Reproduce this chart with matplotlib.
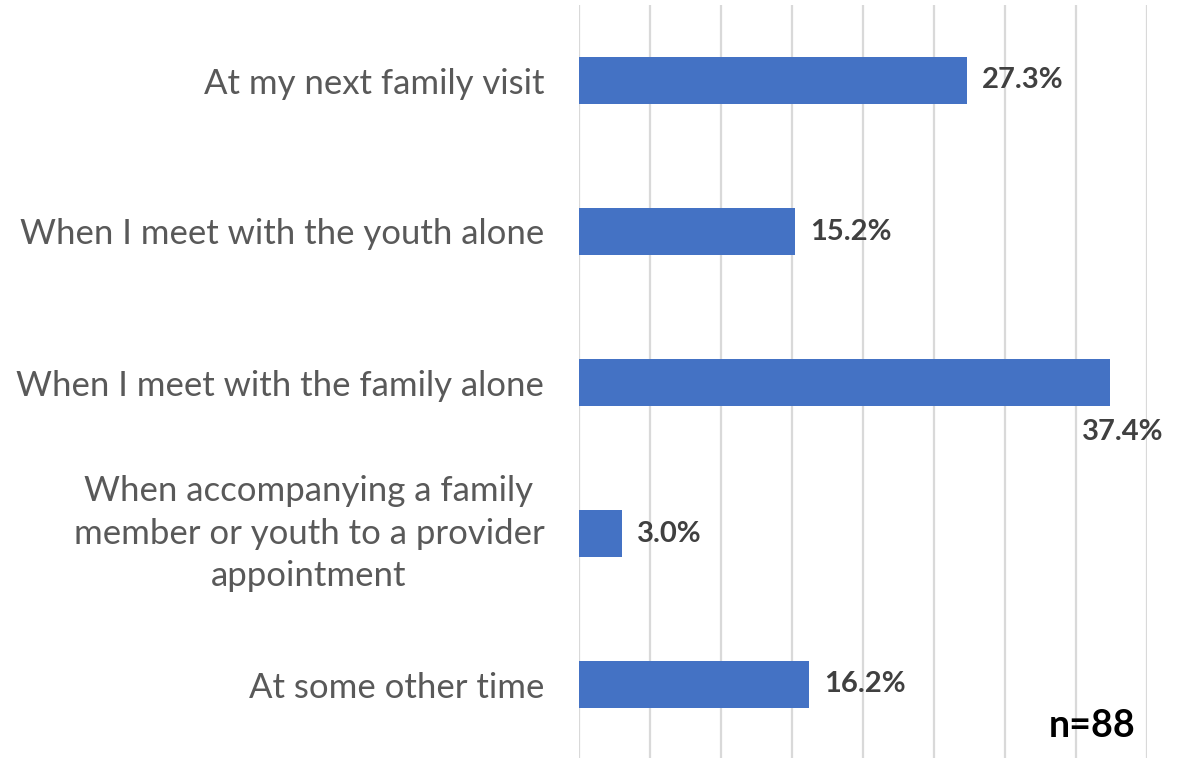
import matplotlib
matplotlib.use("Agg")
import matplotlib.pyplot as plt

categories = [
    "At my next family visit",
    "When I meet with the youth alone",
    "When I meet with the family alone",
    "When accompanying a family\nmember or youth to a provider\nappointment",
    "At some other time",
]
values = [27.3, 15.2, 37.4, 3.0, 16.2]
value_labels = ["27.3%", "15.2%", "37.4%", "3.0%", "16.2%"]
sample_note = "n=88"

plt.rcParams["font.family"] = ["Lato", "DejaVu Sans"]

W, H = 1181, 758
fig = plt.figure(figsize=(W / 100, H / 100), dpi=100)
ax = fig.add_axes([579 / W, -2 / H, (1147 - 579) / W, 755 / H])

ypos = list(range(len(categories)))
ax.barh(ypos, values, height=0.31, color="#4472C4", zorder=3)
ax.set_ylim(len(categories) - 0.5, -0.5)
ax.set_xlim(0, 40)
ax.set_xticks(range(0, 41, 5))
ax.xaxis.grid(True, color="#d9d9d9", linewidth=1.6, zorder=0)
ax.tick_params(axis="x", length=0, labelbottom=False)
ax.tick_params(axis="y", length=0, pad=25)
for s in ax.spines.values():
    s.set_visible(False)

# single-line categories as right-aligned tick labels; the wrapped one as a centred block
ax.set_yticks(ypos)
ax.set_yticklabels(["" if "\n" in c else c for c in categories],
                   fontsize=25, color="#595959")
for i, c in enumerate(categories):
    if "\n" in c:
        ax.annotate(c, (0, i), xycoords=("axes fraction", "data"),
                    xytext=(-270 / 100 * 72, 0), textcoords="offset points",
                    ha="center", va="center", multialignment="center",
                    fontsize=25, color="#595959", linespacing=1.4)

for i, (v, t) in enumerate(zip(values, value_labels)):
    if v > 35:
        ax.annotate(t, (v, i), xytext=(-20, -36), textcoords="offset points",
                    ha="left", va="center", fontsize=21, fontweight="bold",
                    color="#404040")
    else:
        ax.annotate(t, (v, i), xytext=(11, 0), textcoords="offset points",
                    ha="left", va="center", fontsize=21, fontweight="bold",
                    color="#404040")

fig.text(1092 / W, 1 - 726 / H, sample_note, ha="center", va="center",
         fontsize=27, fontweight="bold", color="black")

fig.savefig("out.png", dpi=100)
